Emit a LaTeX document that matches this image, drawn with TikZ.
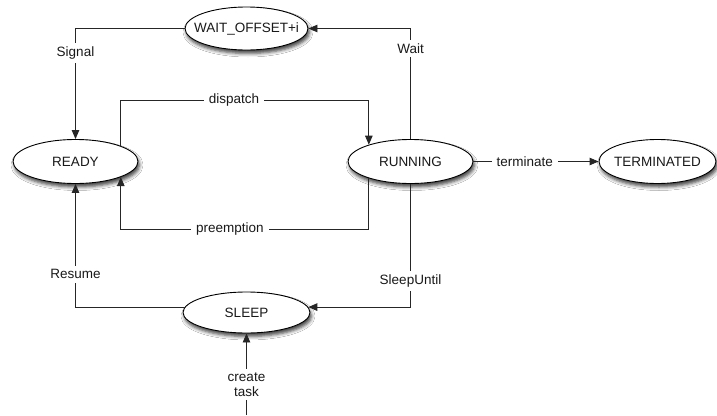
\documentclass[tikz,border=0pt]{standalone}
\usepackage{fontspec}
\setmainfont{Liberation Sans}
\usetikzlibrary{shapes.geometric,arrows.meta,shadows.blur}
\newcommand{\ztext}[1]{\makebox[0pt]{#1}}
\begin{document}
\begin{tikzpicture}[x=1pt,y=-1pt,
  state/.style={ellipse,draw=black,line width=0.9pt,fill=white,inner sep=0pt,
    minimum width=125pt,minimum height=44pt,text=black!90,
    font=\fontsize{13.5}{15}\selectfont,
    blur shadow={shadow xshift=1.5pt,shadow yshift=-3.5pt,shadow blur radius=3.5pt,shadow opacity=75}},
  conn/.style={draw=black!85,line width=0.9pt},
  arr/.style={conn,-{Triangle[length=9pt,width=7.5pt]}},
  lab/.style={fill=white,inner xsep=5pt,inner ysep=3.5pt,text=black!90,font=\fontsize{13.5}{15}\selectfont}]
\useasboundingbox[fill=white] (0,0) rectangle (717,415);

\node[state,minimum width=123pt,minimum height=43pt] (WAIT) at (246.5,28.5) {\ztext{WAIT\_OFFSET+i}};
\node[state] (READY) at (75.5,161.5) {\ztext{READY}};
\node[state] (RUNNING) at (410.5,161.5) {\ztext{RUNNING}};
\node[state,minimum width=117pt] (TERM) at (657.5,161.5) {\ztext{TERMINATED}};
\node[state,minimum width=127pt,minimum height=41pt] (SLEEP) at (246.5,312.5) {\ztext{SLEEP}};
\coordinate (ctstart) at (246.5,415);

% Wait
\draw[arr] (RUNNING.north) |- node[lab,pos=.41]{Wait} (WAIT.east);
% Signal
\draw[arr] (WAIT.west) -| node[lab,pos=.61]{Signal} (READY.north);
% dispatch
\draw[arr] (READY.19) -- (READY.19 |- 0,100) -- node[lab,pos=.456]{dispatch} (RUNNING.158 |- 0,100) -- (RUNNING.158);
% preemption
\draw[arr] (RUNNING.202) -- (RUNNING.202 |- 0,229) -- node[lab,pos=.56]{preemption} (READY.341 |- 0,229) -- (READY.341);
% terminate
\draw[arr] (RUNNING.east) -- node[lab,pos=.41]{terminate} (TERM.west);
% Resume
\draw[arr] (SLEEP.175) -| node[lab,pos=.633]{Resume} (READY.south);
% SleepUntil
\draw[arr] (RUNNING.south) |- node[lab,pos=.395]{SleepUntil} (SLEEP.5);
% create task
\draw[arr] (ctstart) -- node[lab,pos=.37,align=center]{create\\task} (SLEEP.south);
\end{tikzpicture}
\end{document}
